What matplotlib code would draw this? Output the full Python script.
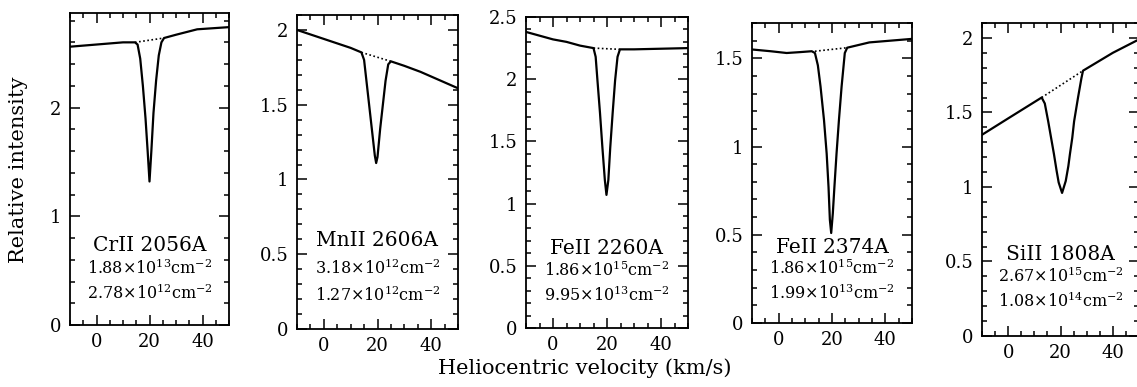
import matplotlib
matplotlib.use('agg')
import matplotlib.pyplot as plt
from matplotlib.ticker import MultipleLocator

plt.rcParams['font.family'] = 'DejaVu Serif'
plt.rcParams['mathtext.fontset'] = 'dejavuserif'

# line profiles (velocity in km/s, relative intensity)
vel_cr = [-10, 0, 10, 14.5, 15.5, 16.5, 17.5, 18.5, 19.3, 20, 20.7, 21.5, 22.5, 23.5, 24.5, 25.5, 30, 38, 50]
int_cr = [2.56, 2.58, 2.60, 2.60, 2.58, 2.45, 2.20, 1.90, 1.60, 1.32, 1.60, 1.95, 2.25, 2.48, 2.60, 2.64, 2.67, 2.72, 2.74]

vel_mn = [-10, 0, 10, 14, 15, 16, 17, 18, 19, 19.5, 20, 21, 22, 23, 24, 25, 30, 36, 50]
int_mn = [2.00, 1.94, 1.88, 1.85, 1.80, 1.64, 1.48, 1.32, 1.16, 1.11, 1.15, 1.34, 1.50, 1.66, 1.77, 1.79, 1.76, 1.72, 1.61]

vel_fe1 = [-10, -5, 0, 5, 10, 15, 15.8, 16.5, 17.4, 18.3, 19.2, 19.8, 20.5, 21.2, 22.1, 23.0, 23.9, 24.8, 30, 50]
int_fe1 = [2.38, 2.35, 2.32, 2.30, 2.27, 2.25, 2.18, 1.98, 1.73, 1.45, 1.19, 1.07, 1.19, 1.45, 1.73, 1.99, 2.18, 2.24, 2.24, 2.25]

vel_fe2 = [-10, -3, 3, 8, 12.4, 13.6, 14.7, 15.7, 17.0, 18.0, 18.7, 19.2, 19.7, 20.3, 20.9, 21.7, 22.6, 23.6, 24.8, 25.7, 34, 50]
int_fe2 = [1.55, 1.54, 1.53, 1.535, 1.54, 1.53, 1.46, 1.34, 1.15, 0.96, 0.77, 0.585, 0.51, 0.62, 0.77, 0.96, 1.15, 1.34, 1.53, 1.56, 1.59, 1.61]

vel_si = [-10, 0, 12.8, 14, 15.3, 16.5, 17.5, 18.5, 19.3, 20.6, 22, 23, 23.6, 24.5, 25.2, 26.7, 28, 28.6, 40, 50]
int_si = [1.35, 1.46, 1.60, 1.56, 1.44, 1.32, 1.22, 1.11, 1.03, 0.96, 1.04, 1.14, 1.22, 1.33, 1.44, 1.60, 1.73, 1.78, 1.90, 1.99]

# dotted continuum under each line: (v1, v2), (I1, I2)
cont_v = [(14.5, 25.5), (14, 25), (15, 24.8), (13.6, 25.7), (12.8, 28.6)]
cont_i = [(2.60, 2.64), (1.85, 1.79), (2.25, 2.24), (1.54, 1.56), (1.60, 1.78)]

labels = ['CrII 2056A', 'MnII 2606A', 'FeII 2260A', 'FeII 2374A', 'SiII 1808A']
col_dens = [('1.88', '13'), ('3.18', '12'), ('1.86', '15'), ('1.86', '15'), ('2.67', '15')]
col_errs = [('2.78', '12'), ('1.27', '12'), ('9.95', '13'), ('1.99', '13'), ('1.08', '14')]
y_tops = [2.87, 2.1, 2.5, 1.7, 2.1]

vels = [vel_cr, vel_mn, vel_fe1, vel_fe2, vel_si]
ints = [int_cr, int_mn, int_fe1, int_fe2, int_si]

W, H = 1137, 387
fig = plt.figure(figsize=(W / 100, H / 100), dpi=100)

# panel boxes in pixels: left, right, top, bottom
boxes = [(70, 229, 13, 325), (297, 458, 15, 329), (526, 688, 17, 328),
         (752, 912, 23, 323), (982, 1139, 23, 336)]
text_y = [(0.256, 0.183, 0.103), (0.283, 0.194, 0.108), (0.257, 0.186, 0.106),
          (0.253, 0.183, 0.100), (0.259, 0.190, 0.110)]

for i in range(5):
    l, r, t, b = boxes[i]
    ax = fig.add_axes([l / W, 1 - b / H, (r - l) / W, (b - t) / H])
    ax.plot(vels[i], ints[i], color='k', lw=1.6)
    ax.plot(cont_v[i], cont_i[i], color='k', lw=1.2, ls=(0, (1, 1.5)))
    ax.set_xlim(-10, 50)
    ax.set_ylim(0, y_tops[i])
    ax.xaxis.set_major_locator(MultipleLocator(20))
    ax.xaxis.set_minor_locator(MultipleLocator(5))
    if i == 0:
        ax.yaxis.set_major_locator(MultipleLocator(1))
        ax.yaxis.set_minor_locator(MultipleLocator(0.2))
    else:
        ax.yaxis.set_major_locator(MultipleLocator(0.5))
        ax.yaxis.set_minor_locator(MultipleLocator(0.1))
    ax.yaxis.set_major_formatter(matplotlib.ticker.FuncFormatter(lambda v, p: '%g' % v))
    ax.tick_params(which='both', direction='in', top=True, right=True,
                   labelsize=13, width=1.1, pad=6)
    ax.tick_params(which='major', length=7)
    ax.tick_params(which='minor', length=3.5)
    for s in ax.spines.values():
        s.set_linewidth(1.3)
    y1, y2, y3 = text_y[i]
    ax.text(0.5, y1, labels[i], transform=ax.transAxes, ha='center', va='center', fontsize=14.5)
    m, e = col_dens[i]
    ax.text(0.5, y2, r'%s$\times$10$^{%s}$cm$^{-2}$' % (m, e), transform=ax.transAxes,
            ha='center', va='center', fontsize=11.5)
    m, e = col_errs[i]
    ax.text(0.5, y3, r'%s$\times$10$^{%s}$cm$^{-2}$' % (m, e), transform=ax.transAxes,
            ha='center', va='center', fontsize=11.5)

fig.text(585 / W, 1 - 368 / H, 'Heliocentric velocity (km/s)', ha='center', va='center', fontsize=15)
fig.text(19 / W, 1 - 170 / H, 'Relative intensity', ha='center', va='center',
         rotation=90, fontsize=15)

fig.savefig('out.png', dpi=100)
